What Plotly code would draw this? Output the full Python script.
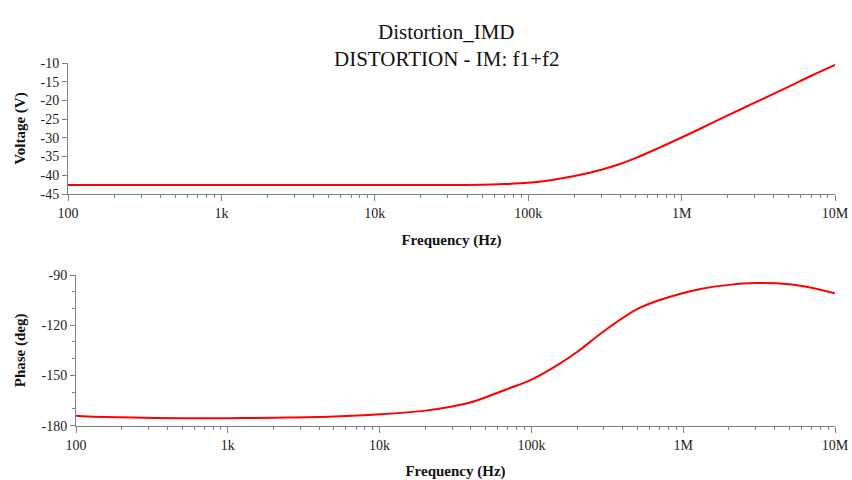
import plotly.graph_objects as go

freq_v = [100, 1e3, 1e4, 3e4, 5e4, 7e4, 1e5, 1.4e5, 2e5, 3e5, 4e5, 5e5, 7e5,
          1e6, 1.3e6, 2e6, 3e6, 5e6, 7e6, 1e7]
voltage = [-42.6, -42.6, -42.6, -42.6, -42.55, -42.35, -42.0, -41.3, -40.2, -38.5,
           -36.9, -35.4, -32.8, -29.9, -27.7, -24.0, -20.6, -16.3, -13.4, -10.5]

freq_p = [100, 120, 200, 500, 1e3, 2e3, 5e3, 1e4, 2e4, 3e4, 4e4, 5e4, 7e4, 1e5,
          1.5e5, 2e5, 3e5, 5e5, 7e5, 1e6, 1.3e6, 2e6, 3e6, 5e6, 7e6, 1e7]
phase = [-174.0, -174.5, -175.0, -175.5, -175.5, -175.2, -174.5, -173.2, -171.0,
         -168.5, -166.0, -163.0, -158.0, -152.5, -143.5, -136.0, -123.6, -110.3,
         -104.9, -100.7, -98.3, -95.9, -94.8, -95.5, -97.6, -100.9]

x_tickvals = [1e2, 1e3, 1e4, 1e5, 1e6, 1e7]
x_ticktext = ["100", "1k", "10k", "100k", "1M", "10M"]
v_tickvals = [-45, -40, -35, -30, -25, -20, -15, -10]
v_ticktext = ["-45", "-40", "-35", "-30", "-25", "-20", "-15", "-10"]
p_tickvals = [-180, -150, -120, -90]
p_ticktext = ["-180", "-150", "-120", "-90"]
title_lines = ["Distortion_IMD", "DISTORTION - IM: f1+f2"]

W, H = 852, 480
SERIF = "Liberation Serif, Times New Roman, serif"
AXC = "#808080"

minor_vals = [m * 10 ** e for e in range(2, 7) for m in range(2, 10)]

fig = go.Figure()
fig.add_trace(go.Scatter(x=freq_v, y=voltage, mode="lines",
                         line=dict(color="#ff0000", width=2, shape="spline", smoothing=1.0),
                         xaxis="x", yaxis="y", showlegend=False))
fig.add_trace(go.Scatter(x=freq_p, y=phase, mode="lines",
                         line=dict(color="#ff0000", width=2, shape="spline", smoothing=1.0),
                         xaxis="x2", yaxis="y2", showlegend=False))

def xax(domain, anchor):
    return dict(type="log", range=[2, 7], domain=domain, anchor=anchor, automargin=False,
                tickvals=x_tickvals, ticktext=x_ticktext, ticks="outside", ticklen=6,
                tickcolor=AXC, showline=True, linecolor=AXC, linewidth=1, showgrid=False,
                zeroline=False, tickfont=dict(family=SERIF, size=14, color="#222"),
                minor=dict(tickvals=minor_vals, ticks="outside", ticklen=3, tickcolor=AXC, showgrid=False),
                title=dict(text="<b>Frequency (Hz)</b>", font=dict(family=SERIF, size=15, color="#111"), standoff=14))

def yax(domain, anchor, rng, tv, tt, title, standoff, minor=None):
    d = dict(domain=domain, anchor=anchor, range=rng, automargin=False,
             tickvals=tv, ticktext=tt,
             ticks="outside", ticklen=5, tickcolor=AXC, showline=True, linecolor=AXC,
             showgrid=False, zeroline=False, tickfont=dict(family=SERIF, size=14, color="#222"),
             title=dict(text=title, font=dict(family=SERIF, size=15, color="#111"), standoff=standoff))
    if minor:
        d["minor"] = minor
    return d

fig.update_layout(
    width=W, height=H, margin=dict(l=0, r=0, t=0, b=0),
    paper_bgcolor="white", plot_bgcolor="white",
    xaxis=xax([68 / W, 835 / W], "y"),
    xaxis2=xax([76 / W, 835 / W], "y2"),
    yaxis=yax([1 - 194 / H, 1 - 63 / H], "x", [-45, -10], v_tickvals, v_ticktext,
              "<b>Voltage (V)</b>", 11),
    yaxis2=yax([1 - 425.7 / H, 1 - 275 / H], "x2", [-180, -90], p_tickvals, p_ticktext,
               "<b>Phase (deg)</b>", 12,
               minor=dict(tickvals=[-170, -160, -140, -130, -110, -100], ticks="outside",
                          ticklen=3, tickcolor=AXC, showgrid=False)),
)
fig.add_annotation(text=title_lines[0], x=446 / W, y=1 - 18 / H, xref="paper", yref="paper",
                   showarrow=False, font=dict(family=SERIF, size=21, color="#111"))
fig.add_annotation(text=title_lines[1], x=446 / W, y=1 - 45 / H, xref="paper", yref="paper",
                   showarrow=False, font=dict(family=SERIF, size=21, color="#111"))

fig.write_html("out.html", config={"displayModeBar": False},
               post_script="document.body.style.margin='0';document.body.style.overflow='hidden';")
